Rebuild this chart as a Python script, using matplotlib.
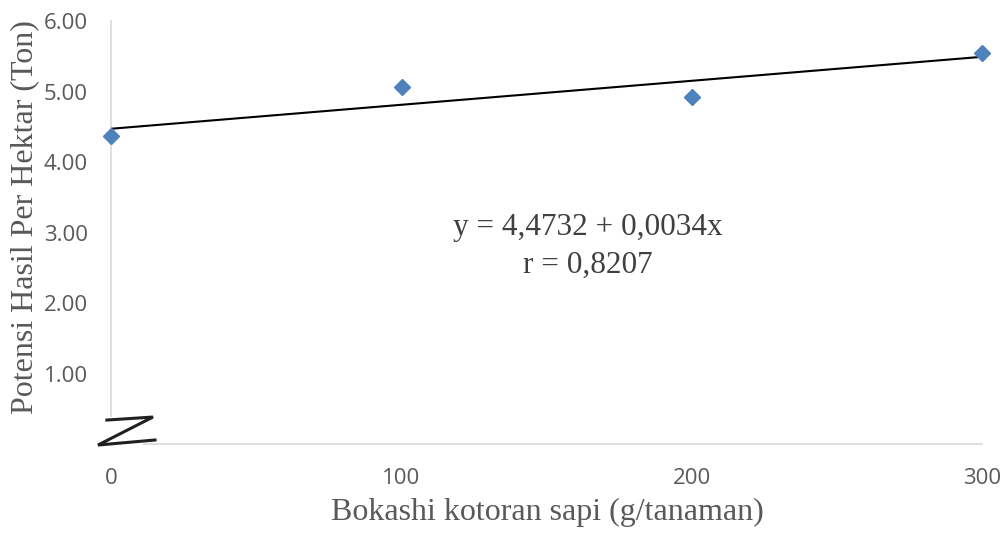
import numpy as np
import matplotlib.pyplot as plt
from matplotlib.patches import Polygon

# data
dosis = [0, 100, 200, 300]
hasil = [4.37, 5.06, 4.92, 5.55]
intercept = 4.4732
slope = 0.0034
r_value = 0.8207

x_ticks = [0, 100, 200, 300]
y_ticks = [1.0, 2.0, 3.0, 4.0, 5.0, 6.0]

fig = plt.figure(figsize=(10.06, 5.36), dpi=100)
ax = fig.add_axes([0.1108, 0.1716, 0.865, 0.789])

# regression line
x_line = np.array([dosis[0], dosis[-1]])
ax.plot(x_line, intercept + slope * x_line, color='black', lw=1.5, zorder=3)

ax.plot(dosis, hasil, linestyle='none', marker='D', ms=8.5,
        color='#4F81BD', zorder=4, clip_on=False)

ax.set_xlim(0, 300)
ax.set_ylim(0, 6)
ax.set_xticks(x_ticks)
ax.set_xticklabels([str(v) for v in x_ticks])
ax.set_yticks(y_ticks)
ax.set_yticklabels([f"{v:.2f}" for v in y_ticks])

for side in ['top', 'right']:
    ax.spines[side].set_visible(False)
for side in ['left', 'bottom']:
    ax.spines[side].set_color('#D9D9D9')
    ax.spines[side].set_linewidth(1.2)

ax.tick_params(length=0, labelsize=16, labelcolor='#595959')
ax.tick_params(axis='x', pad=17)
ax.tick_params(axis='y', pad=17)
for lab in ax.get_xticklabels() + ax.get_yticklabels():
    lab.set_fontfamily('Open Sans')

ax.set_xlabel('Bokashi kotoran sapi (g/tanaman)', fontfamily='Liberation Serif',
              fontsize=23, color='#595959', va='center')
ax.xaxis.set_label_coords(0.501, -0.161)
ax.set_ylabel('Potensi Hasil Per Hektar (Ton)', fontfamily='Liberation Serif',
              fontsize=23, color='#595959', va='center')
ax.yaxis.set_label_coords(-0.1, 0.537)

ax.text(0.5476, 0.511, f"y = {intercept:.4f} + {slope:.4f}x".replace('.', ','),
        transform=ax.transAxes, ha='center', va='center',
        fontfamily='Liberation Serif', fontsize=22.5, color='#404040')
ax.text(0.5476, 0.422, f"r = {r_value:.4f}".replace('.', ','),
        transform=ax.transAxes, ha='center', va='center',
        fontfamily='Liberation Serif', fontsize=22.5, color='#404040')

# axis break sign in the corner
ax.add_patch(Polygon([(-0.03, -0.01), (0.036, -0.01), (0.036, 0.064), (-0.03, 0.064)],
                     closed=True, transform=ax.transAxes, facecolor='white',
                     edgecolor='none', clip_on=False, zorder=5))
ax.plot([-0.0052, 0.0477, -0.0155, 0.05], [0.0567, 0.0638, -0.0024, 0.0095],
        transform=ax.transAxes, color='#202020', lw=2.2, clip_on=False,
        solid_joinstyle='miter', zorder=6)

fig.savefig('out.png', dpi=100)
